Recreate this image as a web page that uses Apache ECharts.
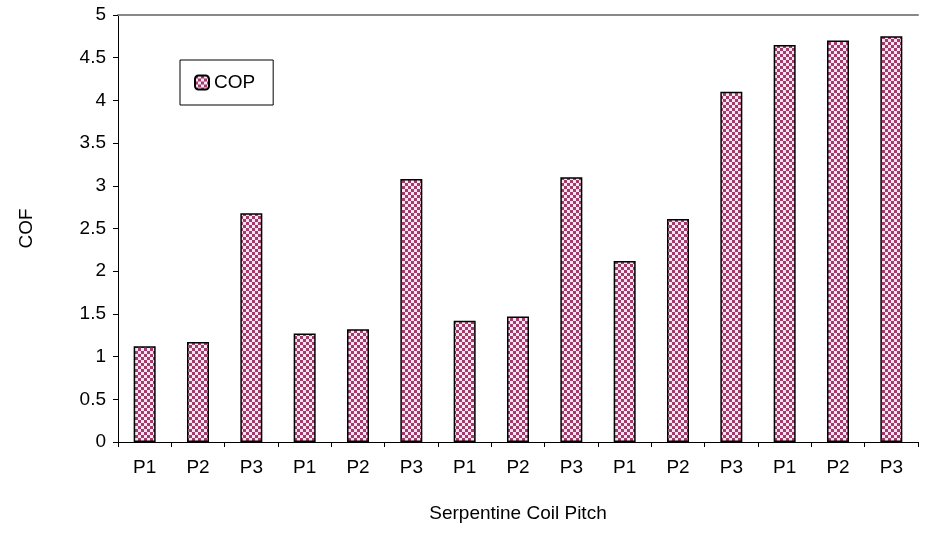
<!DOCTYPE html>
<html><head><meta charset="utf-8">
<script src="https://cdn.jsdelivr.net/npm/echarts@6/dist/echarts.min.js"></script>
<style>html,body{margin:0;background:#fff}#c{width:928px;height:534px}</style>
</head><body><div id="c"></div>
<script>
const categories = ['P1','P2','P3','P1','P2','P3','P1','P2','P3','P1','P2','P3','P1','P2','P3'];
const cop = [1.12,1.17,2.68,1.27,1.32,3.08,1.42,1.47,3.1,2.12,2.61,4.1,4.65,4.7,4.75];
const cv = document.createElement('canvas'); cv.width = 6; cv.height = 6;
const g = cv.getContext('2d');
g.fillStyle = '#f6e6ee'; g.fillRect(0,0,6,6);
g.fillStyle = '#a33a6e'; g.fillRect(0,0,3,3); g.fillRect(3,3,3,3);
const pat = {image: cv, repeat: 'repeat'};
const chart = echarts.init(document.getElementById('c'));
const font = 'Liberation Sans, Arial, sans-serif';
chart.setOption({
  animation:false,
  grid:{left:118,right:10,top:15,bottom:92},
  legend:{left:180,top:60,itemWidth:14,itemHeight:14,itemGap:5,padding:[13,18,13,14],borderColor:'#000',borderWidth:1,
    textStyle:{fontFamily:font,fontSize:19,color:'#000'},data:['COP']},
  xAxis:[{type:'category',data:categories,name:'Serpentine Coil Pitch',nameLocation:'middle',nameGap:62,
    nameTextStyle:{fontFamily:font,fontSize:19,color:'#000'},
    axisLine:{lineStyle:{color:'#000'}},axisTick:{show:true,lineStyle:{color:'#000'}},
    axisLabel:{fontFamily:font,fontSize:19,color:'#000',margin:16}},
    {type:'category',position:'top',data:categories,axisLine:{lineStyle:{color:'#888',width:2}},axisTick:{show:false},axisLabel:{show:false}}],
  yAxis:{type:'value',min:0,max:5,interval:0.5,name:'COF',nameLocation:'middle',nameGap:82,
    nameTextStyle:{fontFamily:font,fontSize:19,color:'#000'},
    axisLine:{show:true,lineStyle:{color:'#000'}},axisTick:{show:true,lineStyle:{color:'#000'}},
    splitLine:{show:false},axisLabel:{fontFamily:font,fontSize:19,color:'#000',margin:12}},
  series:[{name:'COP',type:'bar',data:cop,barWidth:22,
    itemStyle:{color:pat,borderColor:'#000',borderWidth:1.5}}]
});
</script></body></html>
